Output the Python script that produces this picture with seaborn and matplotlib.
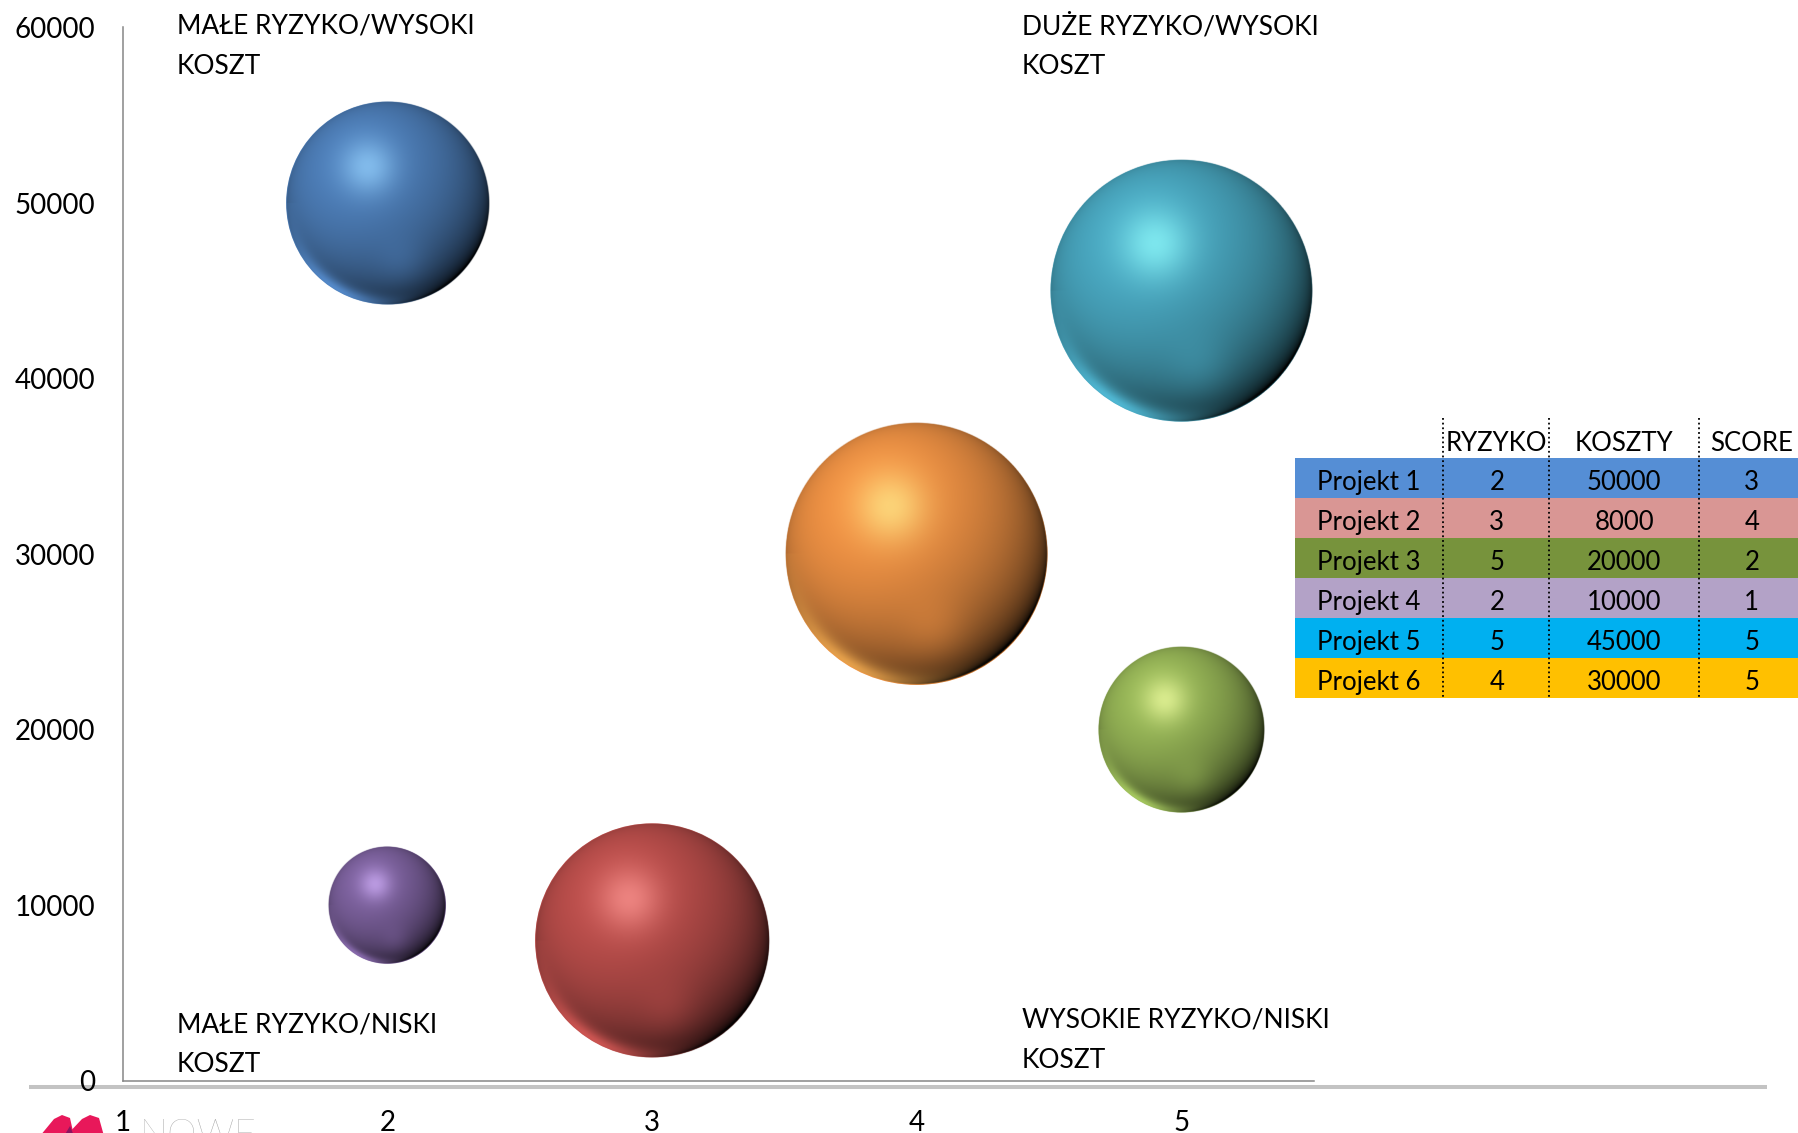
import numpy as np
import pandas as pd
import matplotlib
matplotlib.use("Agg")
import matplotlib.pyplot as plt
import seaborn as sns
from matplotlib.colors import to_rgb
from matplotlib.patches import Rectangle, Polygon

# ---------------- data ----------------
projects = ["Projekt 1", "Projekt 2", "Projekt 3", "Projekt 4", "Projekt 5", "Projekt 6"]
ryzyko = [2, 3, 5, 2, 5, 4]
koszty = [50000, 8000, 20000, 10000, 45000, 30000]
score = [3, 4, 2, 1, 5, 5]
bubble_colors = ["#4F81BD", "#C0504D", "#9BBB59", "#8064A2", "#4BACC6", "#F79646"]
table_colors = ["#558ED5", "#D99694", "#77933C", "#B3A2C7", "#00B0F0", "#FFC000"]
table_headers = ["RYZYKO", "KOSZTY", "SCORE"]
x_ticks = [1, 2, 3, 4, 5]
y_ticks = [0, 10000, 20000, 30000, 40000, 50000, 60000]
quadrant_labels = ["MAŁE RYZYKO/WYSOKI\nKOSZT", "DUŻE RYZYKO/WYSOKI\nKOSZT",
                   "MAŁE RYZYKO/NISKI\nKOSZT", "WYSOKIE RYZYKO/NISKI\nKOSZT"]
quadrant_pos = [(1.203, 60060), (4.398, 60060), (1.203, 3200), (4.398, 3460)]

df = pd.DataFrame({"projekt": projects, "ryzyko": ryzyko, "koszty": koszty, "score": score})

# ---------------- style ----------------
sns.set_style("white")
plt.rcParams["font.family"] = ["Lato", "DejaVu Sans"]

W, H, DPI = 1799, 1133, 100
fig = plt.figure(figsize=(W / DPI, H / DPI), dpi=DPI)

# overlay axes in pixel coordinates (table, decorations)
pax = fig.add_axes([0, 0, 1, 1], zorder=0)
pax.set_xlim(0, W)
pax.set_ylim(H, 0)
pax.axis("off")

ax_left, ax_right, ax_top, ax_bot = 122.8, 1313.7, 27.5, 1080.8
ax = fig.add_axes([ax_left / W, 1 - ax_bot / H, (ax_right - ax_left) / W, (ax_bot - ax_top) / H], zorder=1)
ax.patch.set_visible(False)

XMIN, XMAX, YMIN, YMAX = 1, 5.5, 0, 60000

unit = 7096.0  # points^2 per score unit
sns.scatterplot(data=df, x="ryzyko", y="koszty", hue="projekt", palette=bubble_colors,
                size="score", sizes=(unit * 1, unit * 5), size_norm=(1, 5),
                linewidth=0, legend=False, ax=ax, zorder=2)
ax.set_xlim(XMIN, XMAX)
ax.set_ylim(YMIN, YMAX)


def sphere_rgba(base, R, n=420):
    base = np.array(to_rgb(base))
    ext = (R + 1.5) / R
    lin = np.linspace(-ext, ext, n)
    u, v = np.meshgrid(lin, lin)
    r = np.sqrt(u ** 2 + v ** 2)
    w = np.sqrt(np.clip(1 - r ** 2, 0, 1))
    L = np.array([-0.35, 0.45, 0.82])
    L = L / np.linalg.norm(L)
    ndl = u * L[0] + v * L[1] + w * L[2]
    shade = np.clip((ndl + 0.4) / 1.4, 0, 1) ** 0.65
    col = base[None, None, :] * shade[..., None]
    # specular highlight (soft, tinted)
    d2 = (u + 0.2) ** 2 + (v - 0.36) ** 2
    spec = np.exp(-d2 / (2 * 0.19 ** 2)) * 0.7
    light = np.clip(base * 1.2 + 0.22, 0, 1)
    col = col * (1 - spec[..., None]) + light * spec[..., None]
    # soft lower reflection
    d2b = (u - 0.12) ** 2 + (v + 0.55) ** 2
    refl = np.exp(-d2b / (2 * 0.17 ** 2)) * 0.3
    col = col * (1 - refl[..., None]) + base * refl[..., None]
    # bottom-left rim light
    theta = np.arctan2(v, u)
    ang = np.exp(-((theta - np.deg2rad(-122)) / np.deg2rad(38)) ** 2)
    rim = np.exp(-((1 - np.clip(r, 0, 1)) / 0.09) ** 2) * ang * 0.85
    col = col * (1 - rim[..., None]) + np.clip(base * 1.2, 0, 1) * rim[..., None]
    alpha = np.clip((1 - r) * R + 0.5, 0, 1)
    return np.dstack([np.clip(col, 0, 1), alpha])


fig.canvas.draw()
coll = ax.collections[0]
offsets = coll.get_offsets()
sizes = coll.get_sizes()
fc = coll.get_facecolors()
ax_w_px = ax.bbox.width
ax_h_px = ax.bbox.height
for (x, y), s, c in zip(offsets, sizes, fc):
    R = np.sqrt(s) / 2 * DPI / 72.0
    Rp = R + 1.5
    rx = Rp * (XMAX - XMIN) / ax_w_px
    ry = Rp * (YMAX - YMIN) / ax_h_px
    img = sphere_rgba(c[:3], R)
    ax.imshow(img, extent=[x - rx, x + rx, y - ry, y + ry], origin="lower",
              aspect="auto", interpolation="bilinear", zorder=3)
ax.set_xlim(XMIN, XMAX)
ax.set_ylim(YMIN, YMAX)

# axes styling
for sp in ["top", "right"]:
    ax.spines[sp].set_visible(False)
for sp in ["left", "bottom"]:
    ax.spines[sp].set_color("#868686")
    ax.spines[sp].set_linewidth(1.1)
ax.set_xticks(x_ticks)
ax.set_yticks(y_ticks)
ax.set_xticklabels([str(t) for t in x_ticks])
ax.set_yticklabels([str(t) for t in y_ticks])
ax.tick_params(axis="both", direction="out", length=7, width=1.0, color="#868686",
               labelsize=20, labelcolor="black")
ax.tick_params(axis="y", pad=13)
ax.tick_params(axis="x", pad=14)
ax.set_xlabel("")
ax.set_ylabel("")
ax.grid(False)

# quadrant labels
for lab, (qx, qy) in zip(quadrant_labels, quadrant_pos):
    for i, line in enumerate(lab.split("\n")):
        ax.annotate(line, xy=(qx, qy), xytext=(0, -i * 28.9), textcoords="offset points",
                    ha="left", va="center", fontsize=19, color="black",
                    annotation_clip=False, zorder=4)

# thick grey baseline
pax.plot([29, 1767], [1087, 1087], color="#c3c3c3", lw=2.9, solid_capstyle="butt")

# ---------------- table ----------------
row_top, row_h = 458.3, 39.9
t_left, t_right = 1295, 1800
col_x = [1496.7, 1624.3, 1751.7]
div_x = [1443.3, 1549.3, 1698.7]
for i, (name, rz, ko, sc, tc) in enumerate(zip(projects, ryzyko, koszty, score, table_colors)):
    y0 = row_top + i * row_h
    pax.add_patch(Rectangle((t_left, y0), t_right - t_left, row_h, facecolor=tc, edgecolor="none", zorder=1))
    yc = y0 + row_h / 2 + 4.5
    pax.text(1316.7, yc, name, ha="left", va="center", fontsize=18.5, color="black", zorder=3)
    for cx, val in zip(col_x, [rz, ko, sc]):
        pax.text(cx, yc, str(val), ha="center", va="center", fontsize=18.5, color="black", zorder=3)
for cx, hd in zip(col_x, table_headers):
    pax.text(cx, 443.2, hd, ha="center", va="center", fontsize=18.5, color="black", zorder=3)
for dx in div_x:
    pax.plot([dx, dx], [418, row_top + 6 * row_h], color="black", lw=1.3,
             linestyle=(0, (1, 1.6)), zorder=2)

# ---------------- logo (partially cut) ----------------
pax.add_patch(Polygon([(40, 1136), (54, 1119), (62, 1115), (70, 1118), (74, 1136)],
                      closed=True, facecolor="#E8185A", edgecolor="none"))
pax.add_patch(Polygon([(66, 1136), (82, 1119), (90, 1115), (99, 1118), (104, 1136)],
                      closed=True, facecolor="#E8185A", edgecolor="none"))
pax.add_patch(Polygon([(64, 1136), (70, 1126), (74, 1136)], closed=True,
                      facecolor="#8A1560", edgecolor="none"))
pax.text(140, 1146, "NOWE", ha="left", va="baseline", fontsize=27, color="#9a9a9a",
         fontweight="light", clip_on=False)

fig.savefig("out.png", dpi=DPI)
